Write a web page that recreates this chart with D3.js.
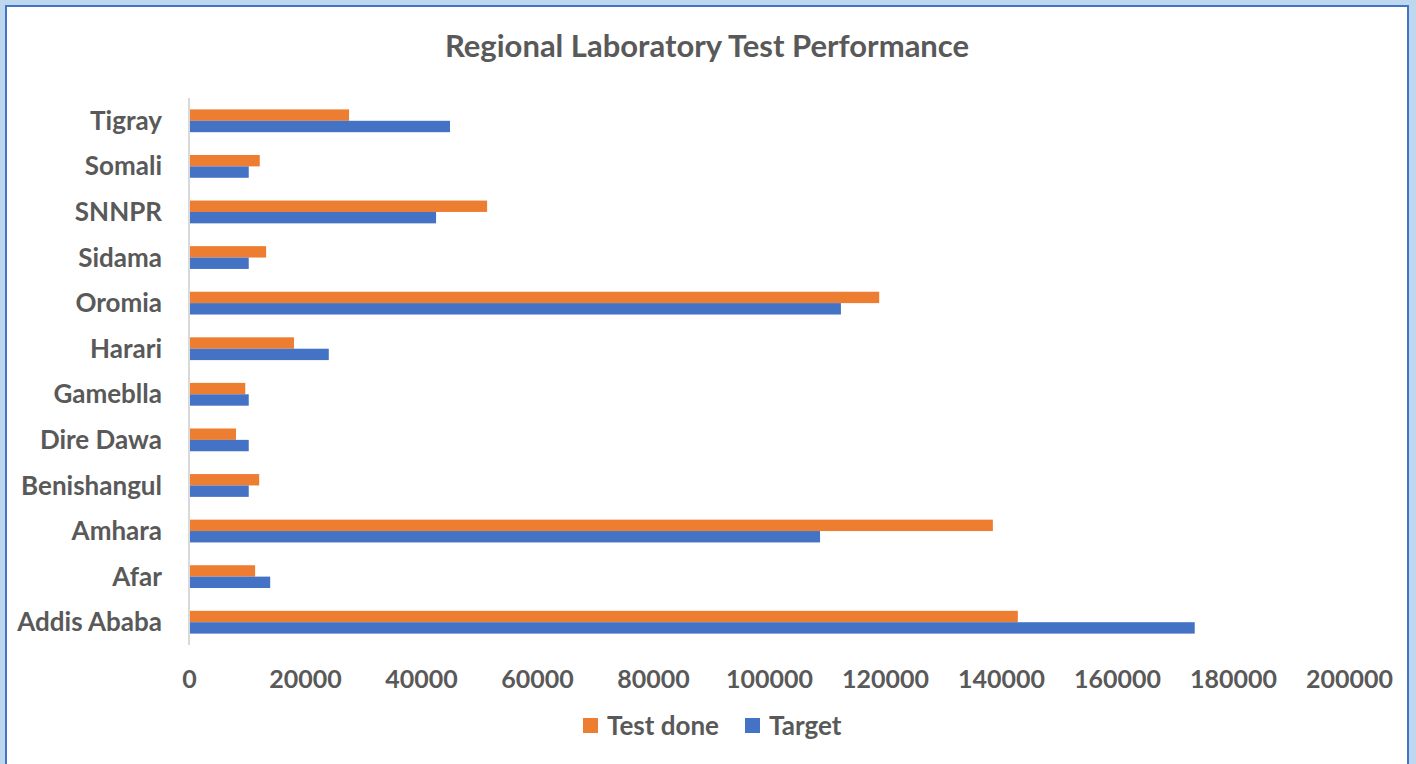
<!DOCTYPE html>
<html>
<head>
<meta charset="utf-8">
<script src="https://cdn.jsdelivr.net/npm/d3@7"></script>
<style>
  html, body { margin: 0; padding: 0; background: #BDD7EE; }
  svg { display: block; font-family: Lato, "Open Sans", sans-serif; }
</style>
</head>
<body>
<script>
// regions, bottom to top as drawn by the chart
const regions = ["Addis Ababa", "Afar", "Amhara", "Benishangul", "Dire Dawa", "Gameblla",
                 "Harari", "Oromia", "Sidama", "SNNPR", "Somali", "Tigray"];
const testDone = [142900, 11400, 138600, 12100, 8100, 9700, 18100, 119000, 13300, 51400, 12200, 27600];
const target   = [173400, 14000, 108800, 10300, 10300, 10300, 24100, 112400, 10300, 42600, 10300, 45000];
const xTicks = [0, 20000, 40000, 60000, 80000, 100000, 120000, 140000, 160000, 180000, 200000];
const seriesNames = ["Test done", "Target"];
const seriesColors = ["#ED7D31", "#4472C4"];

const width = 1416, height = 764;
const textColor = "#595959";

const svg = d3.select("body").append("svg")
    .attr("width", width)
    .attr("height", height);

// chart area frame
svg.append("rect")
    .attr("x", 6).attr("y", 6)
    .attr("width", 1402).attr("height", 770)
    .attr("fill", "#fff")
    .attr("stroke", "#4472C4")
    .attr("stroke-width", 2);

const x = d3.scaleLinear()
    .domain([0, 200000])
    .range([189, 1349]);

const y = d3.scaleBand()
    .domain(regions.slice().reverse())
    .range([98, 645]);

// gap width 100%: the two bars fill half of each band
const inner = d3.scaleBand()
    .domain(seriesNames)
    .range([0, y.bandwidth()])
    .paddingOuter(1);

svg.append("text")
    .attr("x", 707).attr("y", 57)
    .attr("text-anchor", "middle")
    .attr("fill", textColor)
    .style("font-size", "31px")
    .style("font-weight", "bold")
    .text("Regional Laboratory Test Performance");

const rows = regions.map((r, i) => ({ region: r, values: [testDone[i], target[i]] }));

const g = svg.selectAll("g.row")
    .data(rows)
    .join("g")
    .attr("class", "row")
    .attr("transform", d => `translate(0,${y(d.region)})`);

g.selectAll("rect")
    .data(d => d.values.map((v, k) => ({ name: seriesNames[k], value: v, k: k })))
    .join("rect")
    .attr("x", x(0))
    .attr("y", d => inner(d.name))
    .attr("width", d => x(d.value) - x(0))
    .attr("height", inner.bandwidth())
    .attr("fill", d => seriesColors[d.k]);

// category labels
svg.append("g")
    .selectAll("text")
    .data(regions)
    .join("text")
    .attr("x", 162)
    .attr("y", d => y(d) + y.bandwidth() / 2)
    .attr("dy", "0.35em")
    .attr("text-anchor", "end")
    .attr("fill", textColor)
    .style("font-size", "26px")
    .style("font-weight", "bold")
    .text(d => d);

// vertical axis line
svg.append("line")
    .attr("x1", x(0)).attr("x2", x(0))
    .attr("y1", 98).attr("y2", 645)
    .attr("stroke", "#d9d9d9")
    .attr("stroke-width", 2);

// value axis labels
const xAxis = svg.append("g")
    .attr("transform", "translate(0,670)")
    .call(d3.axisBottom(x).tickValues(xTicks).tickFormat(d3.format("d")).tickSize(0).tickPadding(0));
xAxis.select(".domain").remove();
xAxis.selectAll("text")
    .attr("fill", textColor)
    .attr("dy", "0.71em")
    .style("font-family", "Lato, 'Open Sans', sans-serif")
    .style("font-size", "25px")
    .style("font-weight", "bold");

// legend
const legendX = [583, 745];
const legend = svg.append("g")
    .selectAll("g")
    .data(seriesNames)
    .join("g")
    .attr("transform", (d, i) => `translate(${legendX[i]},718)`);
legend.append("rect")
    .attr("width", 15).attr("height", 15)
    .attr("fill", (d, i) => seriesColors[i]);
legend.append("text")
    .attr("x", 24).attr("y", 7.5)
    .attr("dy", "0.35em")
    .attr("fill", textColor)
    .style("font-size", "26px")
    .style("font-weight", "bold")
    .text(d => d);
</script>
</body>
</html>
